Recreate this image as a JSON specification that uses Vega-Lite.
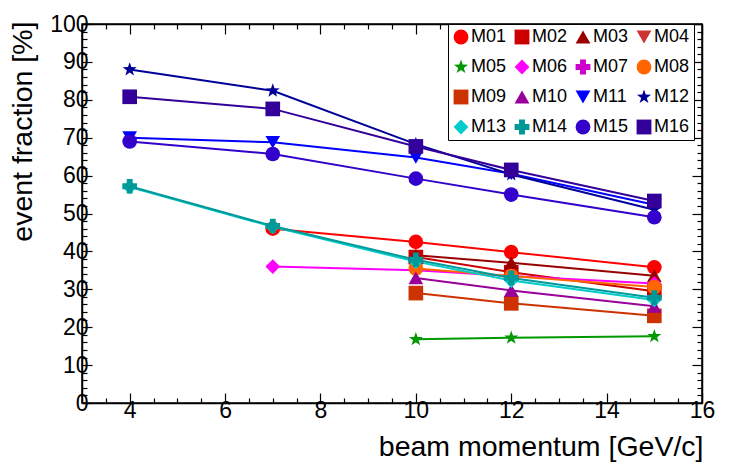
{
  "$schema": "https://vega.github.io/schema/vega-lite/v6.json",
  "width": 620,
  "height": 379,
  "autosize": "none",
  "padding": {"left": 82, "top": 24, "right": 45, "bottom": 65},
  "background": "white",
  "config": {
    "font": "Liberation Sans",
    "view": {"stroke": "black", "strokeWidth": 1.5},
    "axis": {
      "domainColor": "black",
      "domainWidth": 1.5,
      "tickColor": "black",
      "tickWidth": 1.2,
      "grid": false,
      "labelColor": "black",
      "titleColor": "black",
      "labelFontSize": 23,
      "titleFontSize": 28.5,
      "titleFontWeight": "normal"
    }
  },
  "data": {
    "values": [
      {"m": "M01", "p": 7, "f": 46},
      {"m": "M01", "p": 10, "f": 42.5},
      {"m": "M01", "p": 12, "f": 39.8},
      {"m": "M01", "p": 15, "f": 35.8},
      {"m": "M02", "p": 10, "f": 38.5},
      {"m": "M02", "p": 12, "f": 34.5},
      {"m": "M02", "p": 15, "f": 29.5},
      {"m": "M03", "p": 10, "f": 39},
      {"m": "M03", "p": 12, "f": 37},
      {"m": "M03", "p": 15, "f": 33.6},
      {"m": "M05", "p": 10, "f": 16.8},
      {"m": "M05", "p": 12, "f": 17.2},
      {"m": "M05", "p": 15, "f": 17.6},
      {"m": "M06", "p": 7, "f": 36},
      {"m": "M06", "p": 10, "f": 35},
      {"m": "M06", "p": 12, "f": 33.5},
      {"m": "M06", "p": 15, "f": 31.5},
      {"m": "M08", "p": 10, "f": 35.5},
      {"m": "M08", "p": 12, "f": 33.5},
      {"m": "M08", "p": 15, "f": 30.6},
      {"m": "M09", "p": 10, "f": 29},
      {"m": "M09", "p": 12, "f": 26.3},
      {"m": "M09", "p": 15, "f": 23},
      {"m": "M10", "p": 10, "f": 33},
      {"m": "M10", "p": 12, "f": 29.7},
      {"m": "M10", "p": 15, "f": 25.5},
      {"m": "M11", "p": 4, "f": 70},
      {"m": "M11", "p": 7, "f": 68.8},
      {"m": "M11", "p": 10, "f": 64.8},
      {"m": "M11", "p": 12, "f": 60.5},
      {"m": "M11", "p": 15, "f": 52.3},
      {"m": "M12", "p": 4, "f": 88},
      {"m": "M12", "p": 7, "f": 82.4},
      {"m": "M12", "p": 10, "f": 68.3},
      {"m": "M12", "p": 12, "f": 60.3},
      {"m": "M12", "p": 15, "f": 51},
      {"m": "M13", "p": 4, "f": 57},
      {"m": "M13", "p": 7, "f": 46.5},
      {"m": "M13", "p": 10, "f": 37.3},
      {"m": "M13", "p": 12, "f": 32.3},
      {"m": "M13", "p": 15, "f": 27.2},
      {"m": "M14", "p": 4, "f": 57.2},
      {"m": "M14", "p": 7, "f": 46.7},
      {"m": "M14", "p": 10, "f": 37.8},
      {"m": "M14", "p": 12, "f": 33},
      {"m": "M14", "p": 15, "f": 27.8},
      {"m": "M15", "p": 4, "f": 69},
      {"m": "M15", "p": 7, "f": 65.7},
      {"m": "M15", "p": 10, "f": 59.2},
      {"m": "M15", "p": 12, "f": 55},
      {"m": "M15", "p": 15, "f": 49},
      {"m": "M16", "p": 4, "f": 80.8},
      {"m": "M16", "p": 7, "f": 77.6},
      {"m": "M16", "p": 10, "f": 67.7},
      {"m": "M16", "p": 12, "f": 61.5},
      {"m": "M16", "p": 15, "f": 53.3}
    ]
  },
  "resolve": {"axis": {"x": "independent", "y": "independent"}},
  "layer": [
    {
      "mark": {"type": "line", "strokeWidth": 2},
      "encoding": {
        "x": {
          "field": "p", "type": "quantitative",
          "scale": {"domain": [3, 16], "nice": false, "zero": false},
          "axis": {
            "orient": "bottom",
            "values": [3, 3.5, 4, 4.5, 5, 5.5, 6, 6.5, 7, 7.5, 8, 8.5, 9, 9.5, 10, 10.5, 11, 11.5, 12, 12.5, 13, 13.5, 14, 14.5, 15, 15.5, 16],
            "labelExpr": "datum.value % 2 === 0 ? format(datum.value, 'd') : ''",
            "tickSize": {"condition": {"test": "datum.value % 2 === 0", "value": -10}, "value": -5},
            "labelPadding": 6,
            "labelFlush": false,
            "labelOverlap": false,
            "title": "beam momentum [GeV/c]",
            "titleAnchor": "end",
            "titleAlign": "right",
            "titleBaseline": "alphabetic",
            "titleX": 621,
            "titleY": 52
          }
        },
        "y": {
          "field": "f", "type": "quantitative",
          "scale": {"domain": [0, 100], "nice": false},
          "axis": {
            "orient": "left",
            "values": [0, 2, 4, 6, 8, 10, 12, 14, 16, 18, 20, 22, 24, 26, 28, 30, 32, 34, 36, 38, 40, 42, 44, 46, 48, 50, 52, 54, 56, 58, 60, 62, 64, 66, 68, 70, 72, 74, 76, 78, 80, 82, 84, 86, 88, 90, 92, 94, 96, 98, 100],
            "labelExpr": "datum.value % 10 === 0 ? datum.label : ''",
            "tickSize": {"condition": {"test": "datum.value % 10 === 0", "value": -10}, "value": -5},
            "labelPadding": 4,
            "labelFlush": false,
            "labelOverlap": false,
            "title": "event fraction [%]",
            "titleAnchor": "end",
            "titleAlign": "right",
            "titleAngle": -90,
            "titleBaseline": "top",
            "titleX": -74,
            "titleY": -3
          }
        },
        "stroke": {
          "field": "m", "type": "nominal",
          "scale": {
            "domain": ["M01", "M02", "M03", "M05", "M06", "M08", "M09", "M10", "M11", "M12", "M13", "M14", "M15", "M16"],
            "range": ["#ff0000", "#cc0000", "#990000", "#009900", "#ff00ff", "#ff6600", "#cc3300", "#990099", "#0000ff", "#000099", "#00cccc", "#009999", "#3300cc", "#330099"]
          },
          "legend": null
        }
      }
    },
    {
      "mark": {"type": "point", "filled": true, "opacity": 1, "size": 215},
      "encoding": {
        "x": {
          "field": "p", "type": "quantitative",
          "axis": {
            "orient": "top",
            "values": [3, 3.5, 4, 4.5, 5, 5.5, 6, 6.5, 7, 7.5, 8, 8.5, 9, 9.5, 10, 10.5, 11, 11.5, 12, 12.5, 13, 13.5, 14, 14.5, 15, 15.5, 16],
            "labels": false,
            "title": null,
            "tickSize": {"condition": {"test": "datum.value % 2 === 0", "value": -10}, "value": -5}
          }
        },
        "y": {
          "field": "f", "type": "quantitative",
          "axis": {
            "orient": "right",
            "values": [0, 2, 4, 6, 8, 10, 12, 14, 16, 18, 20, 22, 24, 26, 28, 30, 32, 34, 36, 38, 40, 42, 44, 46, 48, 50, 52, 54, 56, 58, 60, 62, 64, 66, 68, 70, 72, 74, 76, 78, 80, 82, 84, 86, 88, 90, 92, 94, 96, 98, 100],
            "labels": false,
            "title": null,
            "tickSize": {"condition": {"test": "datum.value % 10 === 0", "value": -10}, "value": -5}
          }
        },
        "color": {
          "field": "m", "type": "nominal",
          "scale": {
            "domain": ["M01", "M02", "M03", "M04", "M05", "M06", "M07", "M08", "M09", "M10", "M11", "M12", "M13", "M14", "M15", "M16"],
            "range": ["#ff0000", "#cc0000", "#990000", "#cc3333", "#009900", "#ff00ff", "#cc00cc", "#ff6600", "#cc3300", "#990099", "#0000ff", "#000099", "#00cccc", "#009999", "#3300cc", "#330099"]
          },
          "legend": {
            "title": null,
            "orient": "none",
            "direction": "horizontal",
            "legendX": 366,
            "legendY": 0,
            "columns": 4,
            "strokeColor": "black",
            "fillColor": "white",
            "padding": 4,
            "symbolSize": 220,
            "symbolStrokeWidth": 0,
            "labelFontSize": 18,
            "labelColor": "black",
            "labelOffset": 1,
            "columnPadding": 6,
            "rowPadding": 12
          }
        },
        "shape": {
          "field": "m", "type": "nominal",
          "scale": {
            "domain": ["M01", "M02", "M03", "M04", "M05", "M06", "M07", "M08", "M09", "M10", "M11", "M12", "M13", "M14", "M15", "M16"],
            "range": ["circle", "square", "triangle-up", "triangle-down", "M0,-1L0.235,-0.324L0.951,-0.309L0.38,0.124L0.588,0.809L0,0.4L-0.588,0.809L-0.38,0.124L-0.951,-0.309L-0.235,-0.324Z", "diamond", "cross", "circle", "square", "triangle-up", "triangle-down", "M0,-1L0.235,-0.324L0.951,-0.309L0.38,0.124L0.588,0.809L0,0.4L-0.588,0.809L-0.38,0.124L-0.951,-0.309L-0.235,-0.324Z", "diamond", "cross", "circle", "square"]
          },
          "legend": {"title": null}
        }
      }
    }
  ]
}
